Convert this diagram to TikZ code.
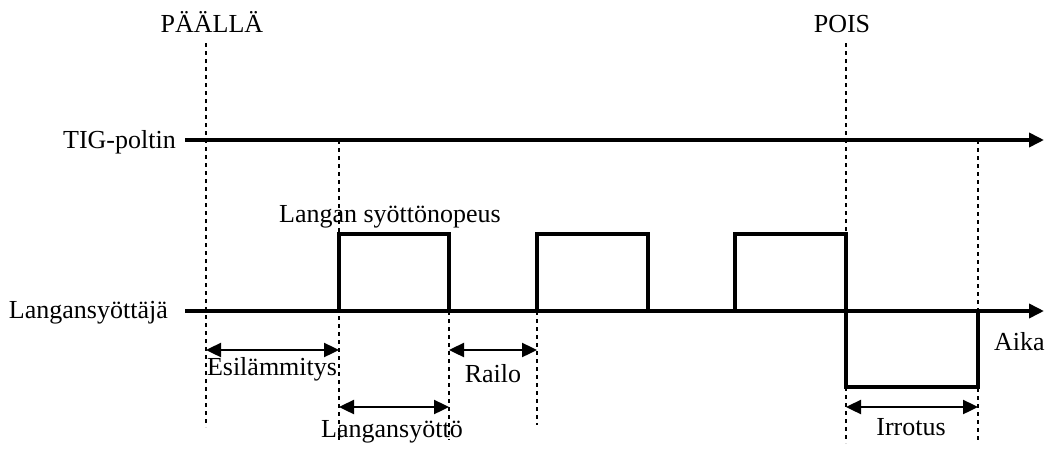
\documentclass[tikz,border=0pt]{standalone}
\usepackage{fontspec}
\setmainfont{Liberation Serif}
\usetikzlibrary{arrows.meta,positioning}

\begin{document}
\begin{tikzpicture}[
    x = 1pt, y = -1pt, % pixel grid, y runs downwards
    font = \fontsize{26}{30}\selectfont, % label size
    line cap = butt
    ]

    \tikzset{
    axis/.style = {line width = 3.6pt, -{Triangle[length=15pt, width=14pt]}},
    signal/.style = {line width = 3.6pt, line join = miter},
    guide/.style = {line width = 1.8pt, dash pattern = on 4pt off 4pt},
    span/.style = {line width = 2.4pt,
        {Triangle[length=15pt, width=14pt]}-{Triangle[length=15pt, width=14pt]}},
    lbl/.style = {inner sep = 0pt, anchor = base}
    }

    \useasboundingbox (0,0) rectangle (1050,450);

    % rows
    \coordinate (top) at (0,43);
    \coordinate (tig) at (0,140);
    \coordinate (hi) at (0,234);
    \coordinate (rowA) at (0,350);
    \coordinate (lo) at (0,387);
    \coordinate (rowB) at (0,407);
    \coordinate (start) at (185,311);
    \coordinate (end) at (1044,311);

    % time marks on the feeder axis
    \foreach \n/\x in {0/206, 1/339, 2/449, 3/537, 4/648, 5/735, 6/846, 7/978}
        \coordinate (t\n) at (\x,311);

    % guide lines
    \draw[guide] (t0 |- top) -- (t0 |- 0,427);
    \draw[guide] (t6 |- top) -- (t6 |- 0,443);
    \draw[guide] (t1 |- tig) -- (t1 |- 0,440);
    \draw[guide] (t7 |- tig) -- (t7 |- 0,443);
    \draw[guide] (t2) -- (t2 |- 0,440);
    \draw[guide] (t3) -- (t3 |- 0,425);

    % axes
    \draw[axis] (start |- tig) -- (end |- tig);
    \draw[axis] (start) -- (end);

    % wire feed pulses
    \draw[signal] (t1) -- (t1 |- hi) -- (t2 |- hi) -- (t2);
    \draw[signal] (t3) -- (t3 |- hi) -- (t4 |- hi) -- (t4);
    \draw[signal] (t5) -- (t5 |- hi) -- (t6 |- hi) -- (t6 |- lo)
        -- (t7 |- lo) -- (t7);

    % intervals
    \draw[span] (t0 |- rowA) -- (t1 |- rowA);
    \draw[span] (t2 |- rowA) -- (t3 |- rowA);
    \draw[span] (t1 |- rowB) -- (t2 |- rowB);
    \draw[span] (t6 |- rowB) -- (t7 |- rowB);

    % labels
    \node[lbl, anchor=base east] (tiglabel) at (176,148) {TIG-poltin};
    \node[lbl, anchor=base east] (lslabel) at (168,318) {Langansyöttäjä};
    \node[lbl] (on) at (212,32) {PÄÄLLÄ};
    \node[lbl] (off) at (842,32) {POIS};
    \node[lbl] (speed) at (390,222) {Langan syöttönopeus};
    \node[lbl, anchor=base west] (time) at (994,350) {Aika};
    \node[lbl] (esi) at (272,375) {Esilämmitys};
    \node[lbl] (railo) at (493,382) {Railo};
    \node[lbl] (feed) at (392,437) {Langansyöttö};
    \node[lbl] (irr) at (911,435) {Irrotus};
\end{tikzpicture}
\end{document}
